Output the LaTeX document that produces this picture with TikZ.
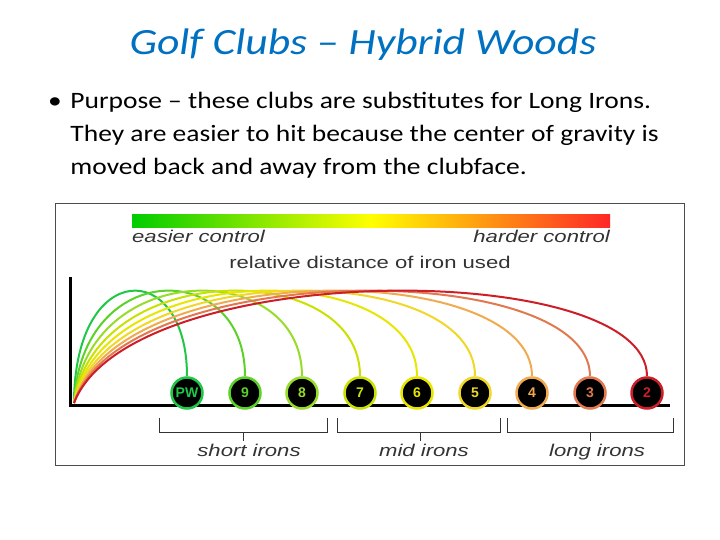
\documentclass[tikz,border=0pt]{standalone}
\usepackage{fontspec}
\setmainfont{Carlito}
\newfontfamily\arialf{Liberation Sans}
\newcommand{\wideit}[1]{\scalebox{1.3}[1]{#1}}
\begin{document}
\begin{tikzpicture}[x=1pt,y=-1pt,
  lbl/.style={font=\arialf\itshape\fontsize{17}{18}\selectfont, text=black!80, inner sep=0},
  club/.style={circle, fill=black, line width=2.5pt, minimum size=31pt, inner sep=0, font=\arialf\bfseries\fontsize{14}{15}\selectfont},
  brk/.style={draw=black!80, line width=0.9pt}]
\useasboundingbox (0,0) rectangle (720,540);
\node[font=\fontsize{37}{40}\selectfont\itshape, text={rgb,255:red,0;green,112;blue,192}] (title) at (363,45) {\scalebox{1.18}[1]{Golf Clubs -- Hybrid Woods}};
\node[font=\fontsize{23.5}{33}\selectfont, anchor=north west, inner sep=0] (body) at (48,85)
  {\scalebox{1.17}[1]{\begin{tabular}{@{}l@{}}\makebox[19pt][l]{\textbullet}Purpose -- these clubs are substitutes for Long Irons.\\
   \hspace*{19pt}They are easier to hit because the center of gravity is\\
   \hspace*{19pt}moved back and away from the clubface.\end{tabular}}};
\node[draw=black!70, line width=1pt, minimum width=629pt, minimum height=261pt, inner sep=0] (frame) at (369.5,334.5) {};
\shade[left color=green!80!black, right color=red!85!white, middle color=yellow] (132,215) rectangle (610,228);
\node[lbl, anchor=base west] (easy) at (132,243) {\wideit{easier control}};
\node[lbl, anchor=base east] (hard) at (610,243) {\wideit{harder control}};
\node[lbl, font=\arialf\fontsize{17}{18}\selectfont, anchor=base] (rel) at (370,268) {\wideit{relative distance of iron used}};
\draw[line width=3pt] (70,277) -- (70,405) -- (670,405);
\foreach \n/\x/\r/\g/\b [count=\i] in {PW/187/30/200/70, 9/245/90/210/40, 8/302/150/220/40, 7/360/200/225/0, 6/417/230/230/0, 5/475/240/215/40, 4/532/240/170/80, 3/590/225/120/80, 2/647/205/30/40}{
  \definecolor{c\i}{RGB}{\r,\g,\b}
  \coordinate (s\i) at (74,403);
  \draw[c\i, line width=2pt] (s\i) .. controls (74+0.12*\x-22,258) and (\x,258) .. (\x,376);
  \node[club, draw=c\i, text=c\i] (n\i) at (\x,393) {\n};
}
\draw[brk] (159,418) -- (159,432) -- (327,432) -- (327,418) (243,432) -- (243,441);
\draw[brk] (337,418) -- (337,432) -- (500,432) -- (500,418) (420,432) -- (420,441);
\draw[brk] (507,418) -- (507,432) -- (673,432) -- (673,418) (590,432) -- (590,441);
\node[lbl, anchor=base] (short) at (249,456) {\wideit{short irons}};
\node[lbl, anchor=base] (mid) at (424,456) {\wideit{mid irons}};
\node[lbl, anchor=base] (long) at (597,456) {\wideit{long irons}};
\end{tikzpicture}
\end{document}
